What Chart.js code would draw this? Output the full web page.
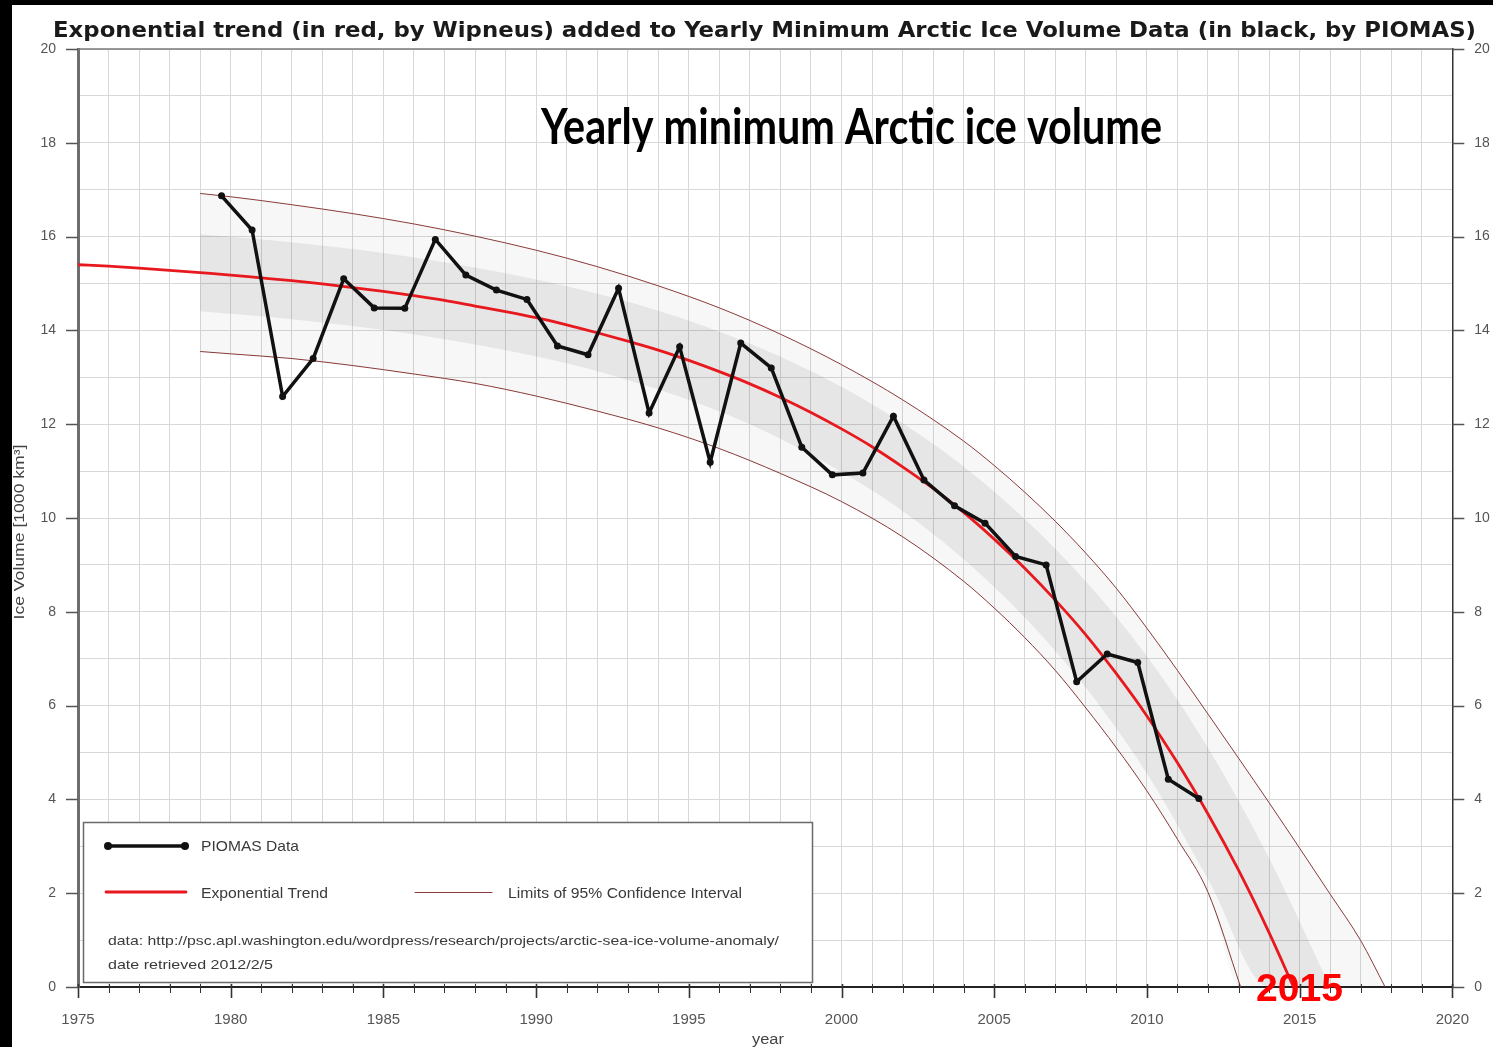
<!DOCTYPE html>
<html>
<head>
<meta charset="utf-8">
<title>Yearly minimum Arctic ice volume</title>
<script src="https://cdn.jsdelivr.net/npm/chart.js@4.4.1/dist/chart.umd.min.js"></script>
<style>
  html, body { margin: 0; padding: 0; background: #fff; }
  #wrap { width: 1493px; height: 1047px; }
</style>
</head>
<body>
<div id="wrap"><canvas id="chart" width="1493" height="1047"></canvas></div>
<script>
// ── Data (1000 km³) ──────────────────────────────────────────
// PIOMAS yearly minimum, reached in September -> plotted at year + 0.7
const SEPT = 0.7;
const years = [1979, 1980, 1981, 1982, 1983, 1984, 1985, 1986, 1987, 1988, 1989,
  1990, 1991, 1992, 1993, 1994, 1995, 1996, 1997, 1998, 1999,
  2000, 2001, 2002, 2003, 2004, 2005, 2006, 2007, 2008, 2009, 2010, 2011];
const piomas = [16.87, 16.14, 12.59, 13.40, 15.10, 14.48, 14.47, 15.94, 15.18, 14.86, 14.66,
  13.67, 13.48, 14.90, 12.24, 13.65, 11.19, 13.73, 13.20, 11.51, 10.92,
  10.96, 12.17, 10.81, 10.26, 9.89, 9.18, 9.00, 6.51, 7.10, 6.92, 4.43, 4.02];

// exponential trend (red)
const trendYears = [1975, 1976, 1977, 1978, 1979, 1980, 1981, 1982, 1983, 1984,
  1985, 1986, 1987, 1988, 1989, 1990, 1991, 1992, 1993, 1994,
  1995, 1996, 1997, 1998, 1999, 2000, 2001, 2002, 2003, 2004,
  2005, 2006, 2007, 2008, 2009, 2010, 2011, 2012, 2013, 2014, 2014.8];
const trend = [15.40, 15.37, 15.33, 15.28, 15.23, 15.18, 15.12, 15.06, 14.99, 14.91,
  14.83, 14.74, 14.64, 14.52, 14.40, 14.27, 14.12, 13.95, 13.77, 13.58,
  13.36, 13.12, 12.86, 12.57, 12.25, 11.90, 11.52, 11.09, 10.63, 10.12,
  9.55, 8.93, 8.25, 7.51, 6.68, 5.78, 4.78, 3.69, 2.49, 1.16, 0];

// limits of 95% confidence interval
const ciUpperYears = [1979, 1980, 1982, 1984, 1986, 1988, 1990, 1992, 1994, 1996, 1998, 2000,
  2002, 2004, 2005, 2006, 2007, 2008, 2009, 2010, 2011, 2012, 2013, 2014, 2015, 2016, 2017, 2017.8];
const ciUpper = [16.92, 16.85, 16.68, 16.49, 16.27, 16.01, 15.71, 15.36, 14.95, 14.48, 13.92, 13.27,
  12.52, 11.64, 11.12, 10.55, 9.93, 9.25, 8.50, 7.65, 6.75, 5.82, 4.88, 3.93, 2.96, 1.98, 0.99, 0];
const ciLowerYears = [1979, 1980, 1982, 1984, 1986, 1988, 1990, 1992, 1994, 1996, 1998, 2000,
  2002, 2004, 2005, 2006, 2007, 2008, 2009, 2010, 2011, 2012, 2013.07];
const ciLower = [13.55, 13.50, 13.40, 13.25, 13.07, 12.87, 12.60, 12.28, 11.92, 11.48, 10.95, 10.35,
  9.60, 8.65, 8.08, 7.45, 6.75, 5.95, 5.10, 4.18, 3.15, 2.02, 0];

// darker grey band around the trend
const bandHiYears = [1979, 1982, 1985, 1988, 1991, 1994, 1997, 2000, 2002, 2004, 2006, 2008, 2010, 2012, 2014, 2016];
const bandHi = [16.05, 15.88, 15.65, 15.34, 14.94, 14.42, 13.72, 12.80, 12.02, 11.10, 9.98, 8.65, 7.05, 5.10, 2.75, 0];
const bandLoYears = [1979, 1982, 1985, 1988, 1991, 1994, 1997, 2000, 2002, 2004, 2006, 2008, 2010, 2012, 2014];
const bandLo = [14.41, 14.24, 14.01, 13.70, 13.30, 12.74, 12.00, 10.98, 10.15, 9.12, 7.88, 6.38, 4.55, 2.30, 0];

const yTicks = [0, 2, 4, 6, 8, 10, 12, 14, 16, 18, 20];
const xTicks = [1975, 1980, 1985, 1990, 1995, 2000, 2005, 2010, 2015, 2020];

const pts = (xs, ys) => xs.map((x, i) => ({ x, y: ys[i] }));
// fill floor: curve, then along the axis to where the other edge ends
const floor = (xs, ys, endX) => pts(xs, ys).concat([{ x: endX, y: 0 }]);

const FONT = "'Liberation Sans', Arial, sans-serif";
Chart.defaults.font.family = FONT;

function fitText(ctx, text, x, y, width, align) {
  const w = ctx.measureText(text).width;
  ctx.save();
  ctx.translate(x, y);
  ctx.scale(width / w, 1);
  ctx.textAlign = align || 'left';
  ctx.fillText(text, 0, 0);
  ctx.restore();
}

const decor = {
  id: 'decor',
  beforeDraw(chart) {
    const ctx = chart.ctx;
    ctx.save();
    ctx.fillStyle = '#fff';
    ctx.fillRect(0, 0, chart.width, chart.height);
    ctx.fillStyle = '#000';
    ctx.fillRect(0, 0, 12, chart.height);
    ctx.fillRect(0, 0, chart.width, 5);
    ctx.restore();
  },
  afterDatasetsDraw(chart) {
    const { ctx, chartArea: a, scales } = chart;
    const sx = scales.x, sy = scales.y;
    ctx.save();

    // frame top
    ctx.strokeStyle = '#7a7a7a';
    ctx.lineWidth = 1.5;
    ctx.beginPath();
    ctx.moveTo(a.left, a.top); ctx.lineTo(a.right, a.top);
    ctx.stroke();

    // tick marks
    ctx.strokeStyle = '#333';
    for (let yr = 1975; yr <= 2020; yr++) {
      const px = Math.round(sx.getPixelForValue(yr)) + 0.5;
      const major = xTicks.includes(yr);
      ctx.lineWidth = major ? 1.6 : 1;
      ctx.beginPath();
      ctx.moveTo(px, a.bottom - 3);
      ctx.lineTo(px, a.bottom + (major ? 11 : 6));
      ctx.stroke();
    }
    ctx.lineWidth = 1.3;
    ctx.strokeStyle = '#555';
    yTicks.forEach(v => {
      const py = Math.round(sy.getPixelForValue(v)) + 0.5;
      ctx.beginPath();
      ctx.moveTo(a.left - 12, py); ctx.lineTo(a.left, py);
      ctx.moveTo(a.right, py); ctx.lineTo(a.right + 12, py);
      ctx.stroke();
    });

    // legend box
    const L = { l: 83, t: 822, r: 812, b: 982 };
    ctx.fillStyle = '#fff';
    ctx.fillRect(L.l, L.t, L.r - L.l, L.b - L.t);
    ctx.strokeStyle = '#6a6a6a';
    ctx.lineWidth = 1.5;
    ctx.strokeRect(L.l + 0.5, L.t + 0.5, L.r - L.l, L.b - L.t);

    ctx.lineCap = 'round';
    ctx.strokeStyle = '#111';
    ctx.lineWidth = 3.5;
    ctx.beginPath(); ctx.moveTo(108, 846); ctx.lineTo(185, 846); ctx.stroke();
    ctx.fillStyle = '#111';
    [108, 185].forEach(x => { ctx.beginPath(); ctx.arc(x, 846, 4, 0, Math.PI * 2); ctx.fill(); });
    ctx.strokeStyle = '#e8191e';
    ctx.lineWidth = 2.8;
    ctx.beginPath(); ctx.moveTo(106, 892); ctx.lineTo(186, 892); ctx.stroke();
    ctx.strokeStyle = '#8a3a3a';
    ctx.lineWidth = 1;
    ctx.beginPath(); ctx.moveTo(415, 892.5); ctx.lineTo(492, 892.5); ctx.stroke();

    ctx.fillStyle = '#3a3a3a';
    ctx.textBaseline = 'alphabetic';
    ctx.font = '15px ' + FONT;
    fitText(ctx, 'PIOMAS Data', 201, 851, 98);
    fitText(ctx, 'Exponential Trend', 201, 898, 127);
    fitText(ctx, 'Limits of 95% Confidence Interval', 508, 898, 234);
    ctx.font = '13px ' + FONT;
    fitText(ctx, 'data: http://psc.apl.washington.edu/wordpress/research/projects/arctic-sea-ice-volume-anomaly/', 108, 945, 671);
    fitText(ctx, 'date retrieved 2012/2/5', 108, 969, 165);

    // titles
    ctx.fillStyle = '#1a1a1a';
    ctx.font = "bold 22px 'DejaVu Sans', Verdana, sans-serif";
    fitText(ctx, 'Exponential trend (in red, by Wipneus) added to Yearly Minimum Arctic Ice Volume Data (in black, by PIOMAS)', 53, 37, 1423);
    ctx.fillStyle = '#000';
    ctx.font = "bold 50px Lato, 'Open Sans', sans-serif";
    fitText(ctx, 'Yearly minimum Arctic ice volume', 541, 144, 621);

    // 2015 annotation at the trend's zero crossing
    ctx.fillStyle = '#ff0000';
    ctx.font = 'bold 38px ' + FONT;
    fitText(ctx, '2015', sx.getPixelForValue(2015), 1001, 87, 'center');

    // axis titles
    ctx.fillStyle = '#444';
    ctx.font = '14px ' + FONT;
    fitText(ctx, 'year', 768, 1044, 32, 'center');
    ctx.save();
    ctx.translate(24, 532);
    ctx.rotate(-Math.PI / 2);
    fitText(ctx, 'Ice Volume [1000 km³]', 0, 0, 175, 'center');
    ctx.restore();

    ctx.restore();
  }
};

const lineBase = { pointRadius: 0, tension: 0, cubicInterpolationMode: 'monotone' };

new Chart(document.getElementById('chart'), {
  type: 'line',
  data: {
    datasets: [
      { label: 'PIOMAS Data', data: pts(years.map(y => y + SEPT), piomas),
        borderColor: '#111', borderWidth: 3.5, pointRadius: 3.5,
        pointBackgroundColor: '#111', pointBorderWidth: 0, tension: 0, fill: false },
      { ...lineBase, label: 'Exponential Trend', data: pts(trendYears, trend),
        borderColor: '#e8191e', borderWidth: 2.8, fill: false },
      { ...lineBase, label: 'band', data: pts(bandHiYears, bandHi),
        borderWidth: 0, borderColor: 'rgba(0,0,0,0)',
        fill: { target: 3 }, backgroundColor: 'rgba(0,0,0,0.065)' },
      { ...lineBase, label: 'band floor', data: floor(bandLoYears, bandLo, bandHiYears[bandHiYears.length - 1]),
        borderWidth: 0, borderColor: 'rgba(0,0,0,0)', fill: false },
      { ...lineBase, label: 'Limits of 95% Confidence Interval', data: pts(ciUpperYears, ciUpper),
        borderColor: '#8a3a3a', borderWidth: 1,
        fill: { target: 6 }, backgroundColor: 'rgba(0,0,0,0.03)' },
      { ...lineBase, label: 'ci lower', data: pts(ciLowerYears, ciLower),
        borderColor: '#8a3a3a', borderWidth: 1, fill: false },
      { ...lineBase, label: 'ci floor', data: floor(ciLowerYears, ciLower, ciUpperYears[ciUpperYears.length - 1]),
        borderWidth: 0, borderColor: 'rgba(0,0,0,0)', fill: false }
    ]
  },
  options: {
    responsive: false,
    animation: false,
    events: [],
    layout: { padding: { top: 49, left: 0, right: 0, bottom: 0 } },
    plugins: { legend: { display: false }, tooltip: { enabled: false }, title: { display: false } },
    scales: {
      x: {
        type: 'linear', min: 1975, max: 2020,
        afterFit: s => { s.height = 60; },
        grid: { color: '#d8d8d8', lineWidth: 1, drawTicks: false },
        border: { color: '#222', width: 2 },
        ticks: {
          stepSize: 1, autoSkip: false, maxRotation: 0, padding: 24,
          color: '#555', font: { size: 15 },
          callback: v => xTicks.includes(v) ? String(v) : ''
        }
      },
      y: {
        type: 'linear', position: 'left', min: 0, max: 20,
        afterFit: s => { s.width = 78; },
        grid: { color: '#d8d8d8', lineWidth: 1, drawTicks: false },
        border: { color: '#6e6e6e', width: 3 },
        ticks: {
          stepSize: 1, autoSkip: false, padding: 22, color: '#555', font: { size: 14 },
          callback: v => yTicks.includes(v) ? String(v) : ''
        }
      },
      y2: {
        type: 'linear', position: 'right', min: 0, max: 20,
        afterFit: s => { s.width = 38; },
        grid: { drawOnChartArea: false, drawTicks: false },
        border: { color: '#333', width: 1.5 },
        ticks: {
          stepSize: 1, autoSkip: false, padding: 22, color: '#555', font: { size: 14 },
          callback: v => yTicks.includes(v) ? String(v) : ''
        }
      }
    }
  },
  plugins: [decor]
});
</script>
</body>
</html>
